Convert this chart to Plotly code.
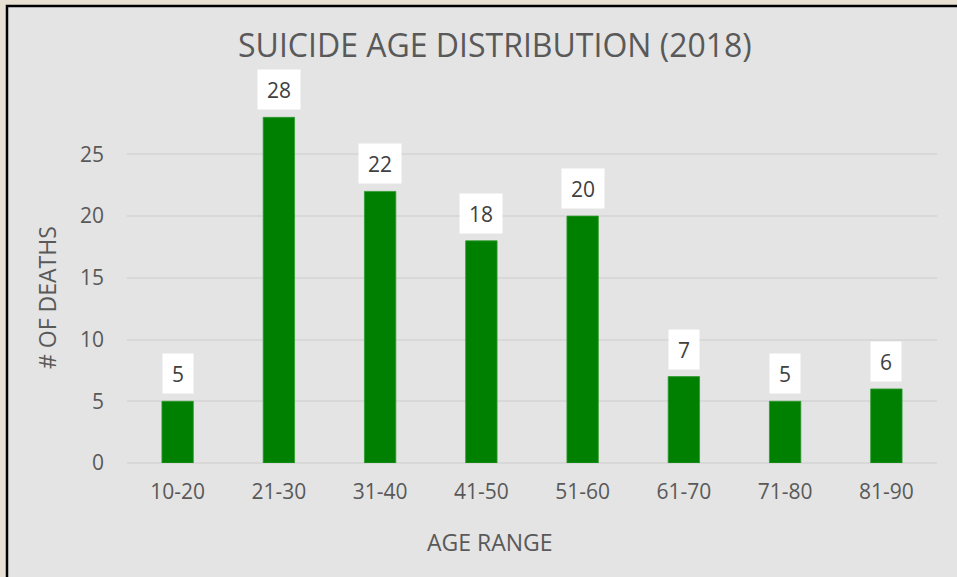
import plotly.graph_objects as go

categories = ["10-20", "21-30", "31-40", "41-50", "51-60", "61-70", "71-80", "81-90"]
deaths = [5, 28, 22, 18, 20, 7, 5, 6]
y_ticks = [0, 5, 10, 15, 20, 25]

W, H = 957, 577
L, R, T, B = 127, 20, 105, 114
pw, ph = W - L - R, H - T - B

def px(xp):
    return (xp - L) / pw

def py(yp):
    return (H - B - yp) / ph

FONT = "Open Sans"
GREY = "#595959"

fig = go.Figure()
fig.add_trace(go.Bar(
    x=categories, y=deaths,
    marker=dict(color="#008000", line=dict(color="#2f9a2f", width=0.8)),
    hoverinfo="x+y",
))

annotations = []
for c, v in zip(categories, deaths):
    annotations.append(dict(
        x=c, y=v, xref="x", yref="y", text=str(v), showarrow=False,
        yanchor="bottom", yshift=7, bgcolor="white", borderpad=9, height=21,
        font=dict(family=FONT, size=21, color="#404040"),
    ))

annotations += [
    dict(text="SUICIDE AGE DISTRIBUTION (2018)", xref="paper", yref="paper",
         x=px(495), y=py(44), showarrow=False, xanchor="center", yanchor="middle",
         font=dict(family=FONT, size=32, color=GREY)),
    dict(text="AGE RANGE", xref="paper", yref="paper",
         x=px(490), y=py(542), showarrow=False, xanchor="center", yanchor="middle",
         font=dict(family=FONT, size=23, color=GREY)),
    dict(text="# OF DEATHS", xref="paper", yref="paper", textangle=-90,
         x=px(47), y=py(298), showarrow=False, xanchor="center", yanchor="middle",
         font=dict(family=FONT, size=23, color=GREY)),
]

fig.update_layout(
    width=W, height=H,
    margin=dict(l=L, r=R, t=T, b=B, pad=0),
    paper_bgcolor="#e7e0d3",
    plot_bgcolor="rgba(0,0,0,0)",
    bargap=0.69,
    showlegend=False,
    annotations=annotations,
    shapes=[dict(type="rect", xref="paper", yref="paper", layer="below",
                 x0=px(7), x1=px(985), y0=py(600), y1=py(6),
                 fillcolor="#e4e4e4", line=dict(color="black", width=2.5))],
    xaxis=dict(showgrid=False, showline=False, ticks="", ticklabelstandoff=14,
               tickfont=dict(family=FONT, size=21, color=GREY), fixedrange=True),
    yaxis=dict(range=[0, 29], tickvals=y_ticks, showgrid=True, gridcolor="#d8d8d8",
               gridwidth=1.5, zeroline=True, zerolinecolor="#d8d8d8", zerolinewidth=1.5,
               showline=False, ticks="", ticklabelstandoff=22,
               tickfont=dict(family=FONT, size=21, color=GREY), fixedrange=True),
)

fig.write_html(
    "out.html",
    config={"displayModeBar": False},
    post_script="document.body.style.margin='0';document.body.style.overflow='hidden';",
)
